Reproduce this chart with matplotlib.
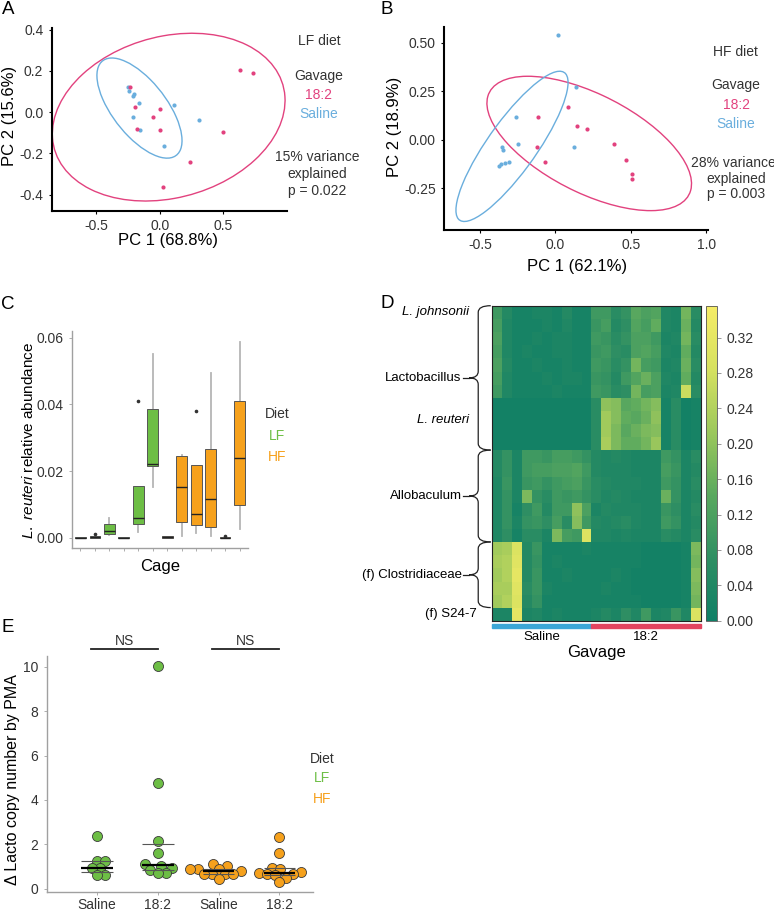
import numpy as np
import matplotlib
matplotlib.use('Agg')
import matplotlib.pyplot as plt
import matplotlib.transforms as mtransforms
from matplotlib.patches import Ellipse, Rectangle, PathPatch
from matplotlib.path import Path
from matplotlib.colors import LinearSegmentedColormap

plt.rcParams['font.family'] = ['Liberation Sans', 'DejaVu Sans']
plt.rcParams['mathtext.fontset'] = 'custom'
plt.rcParams['mathtext.it'] = 'Liberation Sans:italic'
plt.rcParams['mathtext.rm'] = 'Liberation Sans'
plt.rcParams['axes.unicode_minus'] = False

# ---------------- data ----------------
# A: PCoA, LF diet
a_182_pc1 = [0.635, 0.732, -0.236, -0.192, 0.0, -0.05, -0.176, 0.0, 0.496, 0.241, 0.026]
a_182_pc2 = [0.205, 0.192, 0.124, 0.023, 0.016, -0.023, -0.081, -0.086, -0.097, -0.241, -0.365]
a_sal_pc1 = [-0.249, -0.239, -0.199, -0.213, -0.165, 0.113, -0.207, 0.310, -0.157, 0.037]
a_sal_pc2 = [0.121, 0.102, 0.089, 0.078, 0.047, 0.034, -0.021, -0.040, -0.086, -0.165]
# ellipse: centre x, centre y, half-range x, half-range y, correlation
a_ell_182 = [0.071, -0.024, 0.916, 0.407, 0.2]
a_ell_sal = [-0.159, 0.020, 0.335, 0.243, -0.65]

# B: PCoA, HF diet
b_182_pc1 = [0.082, -0.113, 0.146, 0.212, -0.119, -0.068, 0.389, 0.468, 0.506, 0.508]
b_182_pc2 = [0.167, 0.117, 0.072, 0.055, -0.038, -0.114, -0.024, -0.107, -0.179, -0.203]
b_sal_pc1 = [0.015, 0.137, -0.258, -0.247, 0.126, -0.355, -0.344, -0.375, -0.358, -0.336, -0.309]
b_sal_pc2 = [0.541, 0.271, 0.117, -0.021, -0.036, -0.036, -0.055, -0.133, -0.126, -0.119, -0.117]
b_ell_182 = [0.224, -0.019, 0.677, 0.347, -0.6]
b_ell_sal = [-0.287, -0.034, 0.371, 0.388, 0.85]

# C: L. reuteri relative abundance per cage
cage_diet = ['LF'] * 6 + ['HF'] * 6
box_whislo = [0, 0, 0.0008, 0, 0.0016, 0.0153, 0, 0.0006, 0.0013, 0.0006, 0, 0.0025]
box_q1 = [0, 0, 0.0010, 0, 0.0040, 0.0215, 0, 0.0046, 0.0038, 0.0033, 0, 0.0098]
box_med = [0, 0.0001, 0.0020, 0, 0.0058, 0.0221, 0.0001, 0.0152, 0.0070, 0.0116, 0, 0.0238]
box_q3 = [0.0001, 0.0004, 0.0040, 0.0001, 0.0156, 0.0387, 0.0004, 0.0246, 0.0219, 0.0266, 0.0002, 0.0410]
box_whishi = [0.0001, 0.0004, 0.0058, 0.0001, 0.0156, 0.0552, 0.0004, 0.0248, 0.0219, 0.0494, 0.0002, 0.0587]
box_fliers = [[], [0.0012], [], [], [0.0409], [], [], [], [0.0380], [], [0.0006], []]

# D: heatmap (rows = OTUs, columns = mice; 10 saline then 11 18:2)
n_saline = 10
heat_rows = [
    [0.10, 0.05, 0.02, 0.02, 0.03, 0.03, 0.02, 0.05, 0.02, 0.02, 0.10, 0.10, 0.06, 0.08, 0.14, 0.12, 0.13, 0.04, 0.03, 0.17, 0.06],
    [0.11, 0.04, 0.02, 0.02, 0.02, 0.03, 0.02, 0.04, 0.02, 0.02, 0.09, 0.11, 0.05, 0.07, 0.13, 0.11, 0.15, 0.04, 0.03, 0.16, 0.05],
    [0.12, 0.04, 0.02, 0.02, 0.03, 0.02, 0.03, 0.03, 0.02, 0.02, 0.10, 0.09, 0.06, 0.08, 0.12, 0.12, 0.10, 0.03, 0.04, 0.17, 0.06],
    [0.11, 0.04, 0.02, 0.03, 0.02, 0.02, 0.03, 0.03, 0.02, 0.02, 0.09, 0.10, 0.07, 0.06, 0.12, 0.13, 0.11, 0.04, 0.03, 0.15, 0.05],
    [0.12, 0.05, 0.02, 0.02, 0.03, 0.02, 0.02, 0.03, 0.02, 0.02, 0.10, 0.09, 0.06, 0.08, 0.17, 0.11, 0.10, 0.03, 0.04, 0.16, 0.06],
    [0.11, 0.04, 0.02, 0.02, 0.02, 0.03, 0.02, 0.03, 0.03, 0.02, 0.09, 0.08, 0.05, 0.10, 0.13, 0.16, 0.12, 0.04, 0.03, 0.15, 0.05],
    [0.10, 0.04, 0.02, 0.02, 0.02, 0.02, 0.03, 0.02, 0.02, 0.02, 0.10, 0.09, 0.06, 0.07, 0.17, 0.11, 0.12, 0.03, 0.04, 0.27, 0.06],
    [0.01, 0.01, 0.01, 0.01, 0.01, 0.01, 0.01, 0.01, 0.01, 0.01, 0.06, 0.20, 0.19, 0.14, 0.15, 0.17, 0.19, 0.02, 0.06, 0.01, 0.02],
    [0.01, 0.01, 0.01, 0.01, 0.01, 0.01, 0.01, 0.01, 0.01, 0.01, 0.06, 0.22, 0.19, 0.15, 0.14, 0.16, 0.20, 0.02, 0.06, 0.01, 0.02],
    [0.01, 0.01, 0.01, 0.01, 0.01, 0.01, 0.01, 0.01, 0.01, 0.01, 0.06, 0.22, 0.18, 0.14, 0.16, 0.18, 0.19, 0.02, 0.06, 0.01, 0.02],
    [0.01, 0.01, 0.01, 0.01, 0.01, 0.01, 0.01, 0.01, 0.01, 0.01, 0.06, 0.23, 0.18, 0.15, 0.15, 0.17, 0.21, 0.02, 0.06, 0.01, 0.02],
    [0.05, 0.08, 0.03, 0.10, 0.10, 0.09, 0.11, 0.11, 0.10, 0.08, 0.05, 0.04, 0.05, 0.04, 0.03, 0.03, 0.03, 0.10, 0.08, 0.03, 0.06],
    [0.05, 0.08, 0.03, 0.10, 0.11, 0.11, 0.12, 0.12, 0.13, 0.10, 0.05, 0.04, 0.04, 0.04, 0.03, 0.03, 0.03, 0.11, 0.09, 0.03, 0.05],
    [0.04, 0.09, 0.03, 0.09, 0.10, 0.08, 0.10, 0.11, 0.12, 0.09, 0.06, 0.05, 0.04, 0.04, 0.04, 0.03, 0.03, 0.10, 0.08, 0.03, 0.06],
    [0.04, 0.08, 0.03, 0.18, 0.08, 0.06, 0.10, 0.09, 0.10, 0.08, 0.06, 0.04, 0.05, 0.04, 0.03, 0.03, 0.03, 0.16, 0.08, 0.03, 0.05],
    [0.04, 0.08, 0.02, 0.07, 0.10, 0.05, 0.10, 0.10, 0.20, 0.12, 0.03, 0.05, 0.04, 0.04, 0.04, 0.03, 0.03, 0.09, 0.07, 0.03, 0.06],
    [0.04, 0.08, 0.03, 0.08, 0.09, 0.07, 0.11, 0.06, 0.19, 0.10, 0.05, 0.04, 0.05, 0.06, 0.04, 0.03, 0.03, 0.10, 0.08, 0.03, 0.05],
    [0.04, 0.07, 0.02, 0.06, 0.06, 0.03, 0.18, 0.11, 0.10, 0.30, 0.04, 0.04, 0.03, 0.04, 0.03, 0.03, 0.03, 0.06, 0.05, 0.03, 0.06],
    [0.22, 0.23, 0.30, 0.05, 0.09, 0.02, 0.02, 0.02, 0.02, 0.03, 0.02, 0.02, 0.02, 0.02, 0.02, 0.01, 0.01, 0.01, 0.01, 0.02, 0.18],
    [0.23, 0.24, 0.31, 0.05, 0.08, 0.02, 0.03, 0.02, 0.02, 0.02, 0.02, 0.02, 0.02, 0.02, 0.02, 0.01, 0.01, 0.01, 0.01, 0.02, 0.17],
    [0.22, 0.24, 0.32, 0.05, 0.09, 0.02, 0.02, 0.03, 0.02, 0.02, 0.02, 0.02, 0.03, 0.02, 0.01, 0.01, 0.01, 0.01, 0.01, 0.02, 0.19],
    [0.23, 0.23, 0.31, 0.06, 0.09, 0.03, 0.02, 0.02, 0.02, 0.02, 0.02, 0.03, 0.02, 0.02, 0.01, 0.01, 0.01, 0.01, 0.01, 0.02, 0.18],
    [0.22, 0.24, 0.30, 0.05, 0.08, 0.02, 0.02, 0.02, 0.02, 0.02, 0.02, 0.02, 0.02, 0.02, 0.02, 0.01, 0.01, 0.01, 0.01, 0.02, 0.17],
    [0.03, 0.03, 0.32, 0.03, 0.04, 0.02, 0.03, 0.02, 0.02, 0.02, 0.03, 0.05, 0.03, 0.07, 0.04, 0.10, 0.03, 0.04, 0.09, 0.04, 0.30],
]
# groups drawn with braces: (label, first row, last row)
brace_groups = [('Lactobacillus', 0, 10), ('Allobaculum', 11, 17), ('(f) Clostridiaceae', 18, 22)]
species_rows = [('L. johnsonii', 0), ('L. reuteri', 8.2)]
single_rows = [('(f) S24-7', 23)]
heat_max = 0.356

# E: delta Lacto copy number by PMA
e_groups = ['Saline', '18:2', 'Saline', '18:2']
e_diet = ['LF', 'LF', 'HF', 'HF']
e_values = [
    [2.38, 1.27, 1.27, 0.93, 0.93, 0.60, 0.60],
    [10.03, 4.78, 2.17, 1.60, 1.09, 1.03, 0.93, 0.82, 0.70, 0.70],
    [1.12, 1.00, 0.90, 0.90, 0.88, 0.78, 0.65, 0.65, 0.65, 0.65, 0.44],
    [2.35, 1.62, 0.94, 0.88, 0.74, 0.70, 0.68, 0.65, 0.60, 0.49, 0.30],
]

# ---------------- style ----------------
PINK = '#e2427e'
BLUE = '#6aaedd'
GREEN = '#6dbe45'
ORANGE = '#f6a11c'
TXT = '#333333'

W, H = 774, 915
fig = plt.figure(figsize=(W / 100, H / 100), dpi=100)


def box(l, t, r, b):
    return [l / W, 1 - b / H, (r - l) / W, (b - t) / H]


def ftext(x, y, s, **kw):
    kw.setdefault('ha', 'center')
    kw.setdefault('va', 'center')
    kw.setdefault('fontsize', 10)
    kw.setdefault('color', TXT)
    fig.text(x / W, 1 - y / H, s, **kw)


def add_ellipse(ax, p, color):
    cx, cy, sx, sy, rho = p
    cov = np.array([[sx * sx, rho * sx * sy], [rho * sx * sy, sy * sy]])
    vals, vecs = np.linalg.eigh(cov)
    i = np.argmax(vals)
    ang = np.degrees(np.arctan2(vecs[1, i], vecs[0, i]))
    e = Ellipse((cx, cy), 2 * np.sqrt(vals[i]), 2 * np.sqrt(vals[1 - i]),
                angle=ang, fill=False, ec=color, lw=1.0)
    ax.add_patch(e)


def pca_style(ax):
    for s in ['top', 'right']:
        ax.spines[s].set_visible(False)
    for s in ['left', 'bottom']:
        ax.spines[s].set_linewidth(1.5)
    ax.tick_params(length=2.5, width=0.8, labelsize=10, labelcolor=TXT)


# ---------------- A ----------------
axA = fig.add_axes(box(51.7, 27.7, 286.7, 210.7))
add_ellipse(axA, a_ell_182, PINK)
add_ellipse(axA, a_ell_sal, BLUE)
axA.scatter(a_sal_pc1, a_sal_pc2, s=9, color=BLUE, lw=0, zorder=3)
axA.scatter(a_182_pc1, a_182_pc2, s=9, color=PINK, lw=0, zorder=3)
axA.set_xlim(-0.85, 1.0)
axA.set_ylim(-0.478, 0.41)
axA.set_xticks([-0.5, 0.0, 0.5])
axA.set_yticks([-0.4, -0.2, 0.0, 0.2, 0.4])
axA.set_yticklabels(['-0.4', '-0.2', '0.0', '0.2', '0.4'])
axA.set_xticklabels(['-0.5', '0.0', '0.5'])
pca_style(axA)
ftext(10, 116, 'PC 2 (15.6%)', rotation=90, fontsize=12, color='black')
ftext(168, 241, 'PC 1 (68.8%)', fontsize=12, color='black')
ftext(319, 41, 'LF diet')
ftext(319, 76, 'Gavage')
ftext(319, 95, '18:2', color=PINK)
ftext(319, 114, 'Saline', color=BLUE)
ftext(317, 157, '15% variance')
ftext(317, 174, 'explained')
ftext(317, 191, 'p = 0.022')

# ---------------- B ----------------
axB = fig.add_axes(box(444.3, 26.7, 708, 230))
add_ellipse(axB, b_ell_182, PINK)
add_ellipse(axB, b_ell_sal, BLUE)
axB.scatter(b_sal_pc1, b_sal_pc2, s=9, color=BLUE, lw=0, zorder=3)
axB.scatter(b_182_pc1, b_182_pc2, s=9, color=PINK, lw=0, zorder=3)
axB.set_xlim(-0.735, 1.01)
axB.set_ylim(-0.466, 0.584)
axB.set_xticks([-0.5, 0.0, 0.5, 1.0])
axB.set_xticklabels(['-0.5', '0.0', '0.5', '1.0'])
axB.set_yticks([-0.25, 0.0, 0.25, 0.5])
axB.set_yticklabels(['-0.25', '0.00', '0.25', '0.50'])
pca_style(axB)
ftext(395, 127, 'PC 2 (18.9%)', rotation=90, fontsize=12, color='black')
ftext(577, 267, 'PC 1 (62.1%)', fontsize=12, color='black')
ftext(735, 52, 'HF diet')
ftext(736, 85, 'Gavage')
ftext(736, 105, '18:2', color=PINK)
ftext(736, 124, 'Saline', color=BLUE)
ftext(733, 163, '28% variance')
ftext(736, 179, 'explained')
ftext(736, 194, 'p = 0.003')

# ---------------- C ----------------
axC = fig.add_axes(box(71.7, 331, 248.3, 547.7))
stats = []
for i in range(len(box_med)):
    stats.append(dict(med=box_med[i], q1=box_q1[i], q3=box_q3[i],
                      whislo=box_whislo[i], whishi=box_whishi[i],
                      fliers=box_fliers[i]))
pos = np.arange(1, len(stats) + 1)
bp = axC.bxp(stats, positions=pos, widths=0.74, patch_artist=True, showcaps=False,
             boxprops=dict(edgecolor='#555555', linewidth=0.7),
             medianprops=dict(color='#222222', linewidth=1.0),
             whiskerprops=dict(color='#b5b5b5', linewidth=1.3),
             flierprops=dict(marker='o', markersize=1.6, markerfacecolor='#333333',
                             markeredgecolor='#333333'))
for patch, d in zip(bp['boxes'], cage_diet):
    patch.set_facecolor(GREEN if d == 'LF' else ORANGE)
for w in bp['whiskers']:
    w.set_zorder(0.5)
axC.set_xlim(0.4, 12.6)
axC.set_ylim(-0.003, 0.062)
axC.set_yticks([0, 0.02, 0.04, 0.06])
axC.set_yticklabels(['0.00', '0.02', '0.04', '0.06'])
axC.set_xticks(pos)
axC.set_xticklabels([])
for s in ['top', 'right']:
    axC.spines[s].set_visible(False)
for s in ['left', 'bottom']:
    axC.spines[s].set_color('#a0a0a0')
    axC.spines[s].set_linewidth(1.0)
axC.tick_params(length=2.5, width=0.6, colors='#a0a0a0', labelsize=10, labelcolor=TXT)
ftext(29, 440, r'$\it{L.\ reuteri}$ relative abundance', rotation=90, fontsize=11, color='black')
ftext(160, 566, 'Cage', fontsize=12, color='black')
ftext(277, 414, 'Diet')
ftext(277, 436, 'LF', color=GREEN)
ftext(277, 457, 'HF', color=ORANGE)

# ---------------- D ----------------
heat = np.array(heat_rows)
cmap = LinearSegmentedColormap.from_list(
    'gy', ['#0f7f66', '#2f8f63', '#5aa95f', '#9cc85c', '#d6e160', '#f5ec66'])
axD = fig.add_axes(box(492, 305.7, 700.7, 620.7))
im = axD.imshow(heat, aspect='auto', cmap=cmap, vmin=0, vmax=heat_max,
                interpolation='nearest')
axD.set_xticks([])
axD.set_yticks([])
for s in axD.spines.values():
    s.set_linewidth(0.8)
    s.set_color('#222222')

tr = mtransforms.blended_transform_factory(axD.transAxes, axD.transData)
x_hook, x_flat, x_tip, x_dash, x_lab = -0.006, -0.066, -0.109, -0.137, -0.146
rr = 0.5
for name, r0, r1 in brace_groups:
    y0, y1 = r0 - 0.5, r1 + 0.5
    ym = (y0 + y1) / 2
    verts = [(x_hook, y0), (x_flat, y0), (x_flat, y0 + rr), (x_flat, ym - rr),
             (x_flat, ym), (x_tip, ym), (x_flat, ym), (x_flat, ym + rr),
             (x_flat, y1 - rr), (x_flat, y1), (x_hook, y1)]
    codes = [Path.MOVETO, Path.CURVE3, Path.CURVE3, Path.LINETO,
             Path.CURVE3, Path.CURVE3, Path.CURVE3, Path.CURVE3,
             Path.LINETO, Path.CURVE3, Path.CURVE3]
    axD.add_patch(PathPatch(Path(verts, codes), fill=False, lw=0.9, ec='#222222',
                            transform=tr, clip_on=False))
    axD.plot([x_tip, x_dash], [ym, ym], color='#222222', lw=0.9, transform=tr, clip_on=False)
    axD.text(x_lab, ym, name, transform=tr, ha='right', va='center', fontsize=9.5, color='black')
for name, r in species_rows:
    axD.text(x_tip, r, name, transform=tr, ha='right', va='center', fontsize=9.5,
             style='italic', color='black')
for name, r in single_rows:
    axD.text(-0.072, r, name, transform=tr, ha='right', va='center', fontsize=9.5, color='black')

# gavage bars
n_cols = heat.shape[1]
trx = mtransforms.blended_transform_factory(axD.transData, axD.transAxes)
axD.add_patch(Rectangle((-0.5, -0.024), n_saline, 0.012, color='#3ba6d6', transform=trx,
                        clip_on=False))
axD.add_patch(Rectangle((n_saline - 0.5, -0.024), n_cols - n_saline, 0.012, color='#e2445f',
                        transform=trx, clip_on=False))
axD.text((n_saline - 1) / 2, -0.052, 'Saline', transform=trx, ha='center', va='center',
         fontsize=9.5, color='black')
axD.text((n_saline + n_cols - 1) / 2, -0.052, '18:2', transform=trx, ha='center', va='center',
         fontsize=9.5, color='black')
axD.text(0.5, -0.1, 'Gavage', transform=axD.transAxes, ha='center', va='center',
         fontsize=12, color='black')

cax = fig.add_axes(box(706, 305.7, 717.3, 620.7))
cb = fig.colorbar(im, cax=cax, ticks=np.arange(0, 0.33, 0.04))
cb.ax.set_yticklabels(['%.2f' % t for t in np.arange(0, 0.33, 0.04)])
cb.ax.tick_params(length=3, width=0.6, colors='#888888', labelsize=10, labelcolor=TXT)
cb.outline.set_linewidth(0.6)
cb.outline.set_edgecolor('#555555')

# ---------------- E ----------------
axE = fig.add_axes(box(46.7, 656, 313, 892))
xpx, ypx, diam = 60.7, 22.0, 8.0


def swarm(vals, center):
    vals = np.asarray(vals)
    placed = []
    xs = np.zeros(len(vals))
    for i in np.argsort(vals):
        y = vals[i] * ypx
        cands = [0.0]
        for px, py in placed:
            dy = y - py
            if abs(dy) < diam:
                dx = np.sqrt(diam ** 2 - dy ** 2)
                cands += [px + dx, px - dx]
        cands.sort(key=abs)
        for c in cands:
            if all((c - px) ** 2 + (y - py) ** 2 >= diam ** 2 - 1e-6 for px, py in placed):
                xs[i] = c
                placed.append((c, y))
                break
    return center + xs / xpx


for k, vals in enumerate(e_values):
    xc = k + 1
    col = GREEN if e_diet[k] == 'LF' else ORANGE
    q1, med, q3 = np.percentile(vals, [25, 50, 75])
    axE.hlines([q1, q3], xc - 0.26, xc + 0.26, color='#555555', lw=0.8, zorder=4)
    axE.hlines(med, xc - 0.26, xc + 0.26, color='black', lw=1.6, zorder=4)
    axE.scatter(swarm(vals, xc), vals, s=52, color=col, edgecolor='#3a3a3a',
                lw=0.6, zorder=3)

for a, b in [(0, 1), (2, 3)]:
    x0, x1 = a + 1 - 0.1, b + 1
    axE.plot([x0, x1], [10.82, 10.82], color='#222222', lw=1.3, clip_on=False)
    axE.text((x0 + x1) / 2, 11.15, 'NS', ha='center', va='center', fontsize=10, color=TXT)

axE.set_xlim(0.17, 4.555)
axE.set_ylim(-0.15, 10.49)
axE.set_xticks(np.arange(1, 5))
axE.set_xticklabels(e_groups)
axE.set_yticks([0, 2, 4, 6, 8, 10])
for s in ['top', 'right']:
    axE.spines[s].set_visible(False)
for s in ['left', 'bottom']:
    axE.spines[s].set_color('#a0a0a0')
    axE.spines[s].set_linewidth(1.0)
axE.tick_params(length=2.5, width=0.6, colors='#a0a0a0', labelsize=10, labelcolor=TXT)
axE.tick_params(axis='x', pad=1.5)
ftext(13, 780, u'\u0394 Lacto copy number by PMA', rotation=90, fontsize=11.5, color='black')
ftext(322, 759, 'Diet')
ftext(322, 778, 'LF', color=GREEN)
ftext(322, 799, 'HF', color=ORANGE)

# panel letters
for lab, x, y in [('A', 8, 9), ('B', 387, 9), ('C', 8, 305), ('D', 387, 303), ('E', 8, 627)]:
    ftext(x, y, lab, fontsize=13.5, color='black')

fig.savefig('out.png', dpi=100)
